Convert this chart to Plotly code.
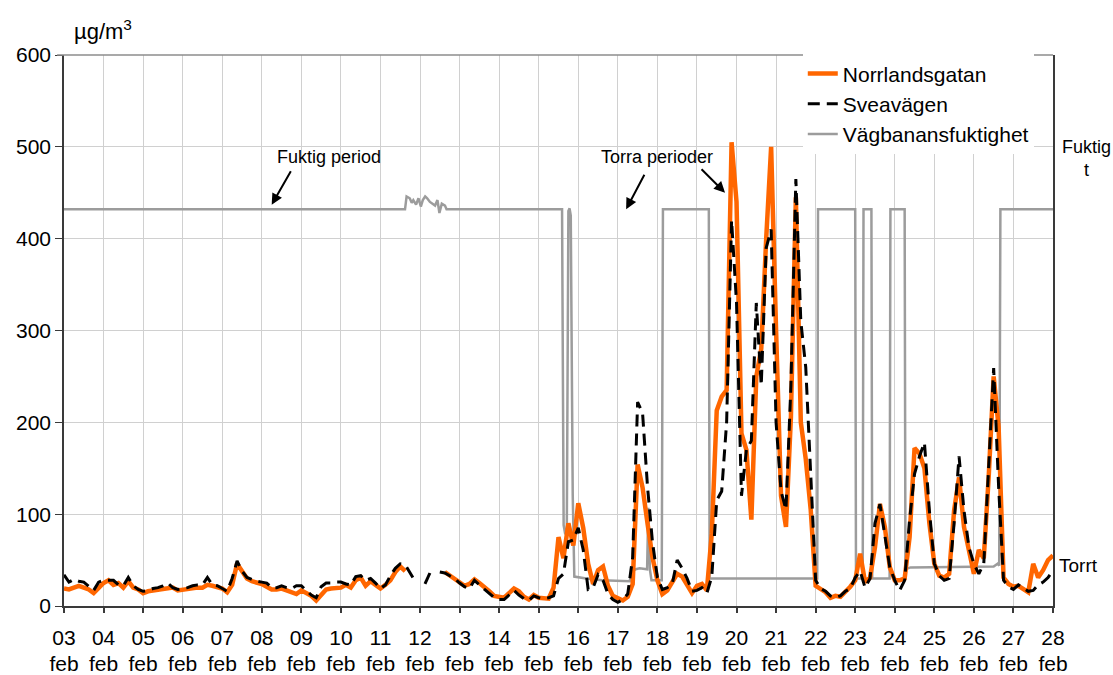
import numpy as np
import plotly.graph_objects as go

# ---- time axis: 3-hourly samples, 3 Feb 00:00 .. 28 Feb 00:00 (in days) ----
first_day, last_day = 3, 28
samples_per_day = 8
sample_days = first_day + np.arange((last_day - first_day) * samples_per_day + 1) / samples_per_day

day_ticks = list(range(first_day, last_day + 1))
day_numbers = [f"{d:02d}" for d in day_ticks]
month_labels = ["feb"] * len(day_ticks)

# ---- PM10, µg/m3 (3-hourly) ----
norrlandsgatan = [
    19, 18, 20, 22, 20, 18, 14, 19,        # 03 feb
    25, 28, 23, 25, 20, 27, 20, 18,        # 04
    14, 16, 17, 18, 18, 20, 20, 17,        # 05
    18, 18, 20, 20, 20, 23, 22, 20,        # 06
    19, 15, 23, 46, 38, 30, 27, 26,        # 07
    24, 21, 18, 18, 19, 17, 15, 13,        # 08
    17, 14, 11, 6, 12, 18, 19, 19,         # 09
    20, 23, 20, 28, 31, 22, 27, 23,        # 10
    19, 23, 28, 37, 43, 38, None, None,    # 11
    None, None, None, None, None, 37, 33, 30,  # 12
    26, 22, 24, 29, 25, 21, 16, 11,        # 13
    10, 9, 14, 19, 16, 10, 7, 12,          # 14
    9, 8, 8, 20, 75, 52, 90, 66,           # 15
    112, 85, 46, 24, 39, 43, 22, 11,       # 16
    8, 6, 10, 24, 154, 129, 90, 53,        # 17
    28, 13, 17, 26, 35, 32, 24, 14,        # 18
    22, 24, 17, 79, 213, 228, 235, 505,    # 19
    440, 188, 170, 94, 250, 280, 400, 500, # 20
    300, 120, 86, 206, 445, 200, 160, 105, # 21
    22, 18, 15, 9, 11, 10, 15, 21,         # 22
    28, 57, 26, 31, 64, 111, 86, 42,       # 23
    28, 28, 30, 75, 172, 166, 150, 90,     # 24
    46, 33, 31, 35, 104, 140, 86, 61,      # 25
    35, 61, 52, 141, 250, 195, 31, 24,     # 26
    21, 22, 18, 15, 46, 31, 39, 50,        # 27
    55,                                    # 28
]

sveavagen = [
    34, 26, 29, 27, 26, 22, 17, 26,        # 03 feb
    28, 28, 28, 23, 22, 31, 22, 18,        # 04
    16, 17, 19, 20, 22, 25, 20, 18,        # 05
    19, 20, 22, 23, 23, 31, 23, 22,        # 06
    19, 16, 30, 49, 38, 31, 29, 27,        # 07
    26, 25, 20, 20, 22, 20, 19, 22,        # 08
    22, 17, 12, 9, 21, 25, 25, 26,         # 09
    26, 24, 23, 32, 33, 28, 30, 25,        # 10
    19, 23, 33, 41, 46, 45, 36, 27,        # 11
    None, 24, 36, None, 37, 36, 33, 30,    # 12
    25, 21, 19, 28, 23, 18, 14, 9,         # 13
    7, 7, 12, 17, 12, 8, 6, 11,            # 14
    9, 8, 9, 11, 30, 35, 70, 72,           # 15
    85, 61, 18, 20, 34, 28, 13, 7,         # 16
    4, 7, 13, 53, 222, 210, 130, 70,       # 17
    31, 18, 20, 24, 50, 41, 30, 16,        # 18
    17, 20, 14, 32, 115, 125, 200, 420,    # 19
    330, 120, 170, 180, 330, 240, 390, 410,  # 20
    200, 125, 105, 240, 465, 310, 260, 140,  # 21
    28, 19, 16, 11, 9, 11, 16, 19,         # 22
    31, 38, 20, 30, 90, 111, 75, 42,       # 23
    28, 17, 28, 94, 144, 163, 178, 104,    # 24
    46, 33, 28, 30, 90, 163, 104, 64,      # 25
    46, 35, 46, 155, 259, 130, 28, 21,     # 26
    18, 23, 19, 16, 17, 23, 26, 31,        # 27
    39,                                    # 28
]

# ---- road surface moisture (wet ~432, dry ~30 on the same scale) ----
fukt_days = [
    3.00, 11.62, 11.66, 11.74, 11.79, 11.83, 11.90, 11.96, 12.02, 12.07,
    12.13, 12.18, 12.25, 12.32, 12.38, 12.44, 12.49, 12.55, 12.63, 12.67,
    15.59, 15.63, 15.67, 15.71, 15.75, 15.78, 15.81, 15.86, 15.90, 16.20,
    16.60, 17.30, 17.35, 17.45, 17.55, 17.74, 17.77, 17.81, 17.85, 18.11,
    18.14, 19.30, 19.32, 22.04, 22.06, 23.00, 23.02, 23.19, 23.21, 23.41,
    23.43, 23.87, 23.89, 24.25, 24.27, 24.40, 26.50, 26.60, 26.64, 26.67,
    28.00,
]
fukt_values = [
    432, 432, 446, 444, 439, 442, 437, 444, 435, 442,
    446, 444, 440, 438, 436, 442, 428, 438, 436, 432,
    432, 88, 78, 85, 430, 433, 425, 120, 32, 30,
    28, 27, 38, 40, 41, 40, 107, 40, 28, 28,
    432, 432, 30, 30, 432, 432, 30, 30, 432, 432,
    30, 30, 432, 432, 40, 42, 43, 46, 44, 432,
    432,
]

FONT = "Arial, Liberation Sans, sans-serif"
ORANGE = "#ff6600"
GREY = "#9c9c9c"
AXIS = "#3a3a3a"
GRID = "#d0d0d0"
CLEAR = "rgba(0,0,0,0)"

fig = go.Figure()

fig.add_trace(go.Scatter(
    x=fukt_days, y=fukt_values, mode="lines", name="Vägbanansfuktighet",
    line=dict(color=GREY, width=2.5), legendrank=3,
))
fig.add_trace(go.Scatter(
    x=sample_days, y=norrlandsgatan, mode="lines", name="Norrlandsgatan",
    line=dict(color=ORANGE, width=4.5), connectgaps=False, legendrank=1,
))
fig.add_trace(go.Scatter(
    x=sample_days, y=sveavagen, mode="lines", name="Sveavägen",
    line=dict(color="black", width=3, dash="12px,7px"), connectgaps=False, legendrank=2,
))
# empty carriers for the overlay date axes (month row and tick marks)
for ax_id in ("x2", "x3"):
    fig.add_trace(go.Scatter(
        x=[first_day], y=[None], xaxis=ax_id, mode="lines",
        showlegend=False, hoverinfo="skip",
    ))

# period labels with arrows
text_style = dict(font=dict(family=FONT, size=18, color="black"), showarrow=False)
fig.add_annotation(x=9.69, y=489, text="Fuktig period", **text_style)
fig.add_annotation(x=17.99, y=489, text="Torra perioder", **text_style)

arrow_style = dict(text="", showarrow=True, arrowhead=2, arrowsize=1.1,
                   arrowwidth=2, arrowcolor="black", axref="pixel", ayref="pixel")
fig.add_annotation(x=8.25, y=437, ax=20, ay=-35, **arrow_style)
fig.add_annotation(x=17.21, y=432, ax=19, ay=-36, **arrow_style)
fig.add_annotation(x=19.71, y=450, ax=-25, ay=-25, **arrow_style)

# unit and right-hand state labels
fig.add_annotation(xref="paper", yref="paper", x=0.0085, y=1.045, xanchor="left",
                   yanchor="middle", text="µg/m<sup>3</sup>", showarrow=False,
                   font=dict(family=FONT, size=22, color="black"))
fig.add_annotation(xref="paper", yref="paper", x=1.0335, y=0.813, xanchor="center",
                   yanchor="middle", text="Fuktig<br>t", showarrow=False, align="center",
                   font=dict(family=FONT, size=18, color="black"))
fig.add_annotation(xref="paper", yref="paper", x=1.004, y=0.0726, xanchor="left",
                   yanchor="middle", text="Torrt", showarrow=False,
                   font=dict(family=FONT, size=19, color="black"))

# top frame line of the plot area
fig.add_shape(type="line", xref="paper", yref="paper", x0=-0.007, x1=1.0, y0=1, y1=1,
              line=dict(color="#8c8c8c", width=1.5), layer="above")

tick_font = dict(family=FONT, size=21, color="black")
date_axis = dict(range=[first_day, last_day], tickmode="array", tickvals=day_ticks,
                 overlaying="x", anchor="y", side="bottom", showgrid=False,
                 showline=False, zeroline=False, tickfont=tick_font, automargin=False)

fig.update_layout(
    width=1113, height=675,
    margin=dict(l=64, r=60, t=55, b=69),
    paper_bgcolor="white", plot_bgcolor="white",
    font=dict(family=FONT, size=21, color="black"),
    showlegend=True,
    legend=dict(x=0.747, y=1.003, xanchor="left", yanchor="top",
                bgcolor="white", borderwidth=0, tracegroupgap=0,
                font=dict(family=FONT, size=21, color="black")),
    # day numbers (first label row)
    xaxis=dict(range=[first_day, last_day], tickmode="array", tickvals=day_ticks,
               ticktext=day_numbers, showgrid=True, gridcolor=GRID, gridwidth=1,
               showline=True, linecolor=AXIS, linewidth=1.5, ticks="outside",
               ticklen=12, tickcolor=CLEAR, zeroline=False, tickfont=tick_font,
               automargin=False),
    # month names (second label row)
    xaxis2=dict(date_axis, ticktext=month_labels, ticks="outside", ticklen=39,
                tickcolor=CLEAR),
    # visible tick marks
    xaxis3=dict(date_axis, ticks="outside", ticklen=6, tickcolor=AXIS,
                tickwidth=1.5, showticklabels=False),
    yaxis=dict(range=[0, 600], tickmode="linear", tick0=0, dtick=100,
               showgrid=True, gridcolor=GRID, gridwidth=1, showline=True,
               linecolor=AXIS, linewidth=1.5, mirror=True, ticks="outside",
               ticklen=7, tickcolor=AXIS, zeroline=False, tickfont=tick_font,
               automargin=False),
)

fig.write_html("out.html")
